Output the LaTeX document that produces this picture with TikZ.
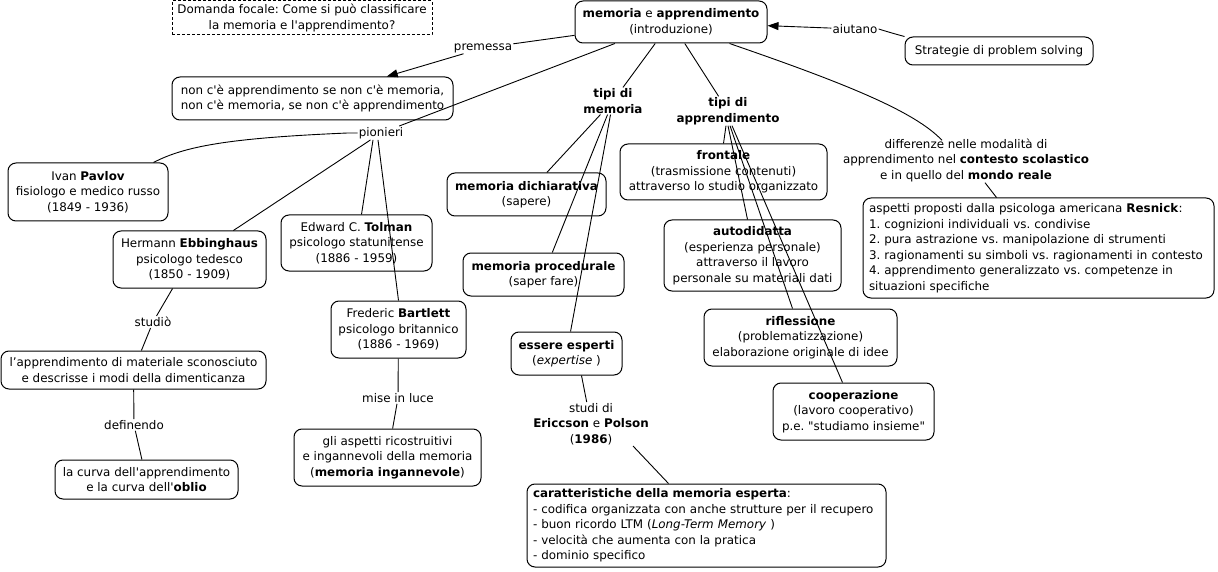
\documentclass[tikz,border=0pt]{standalone}
\usepackage{fontspec}
\setmainfont{DejaVu Sans}[Ligatures=TeXOff]
\usetikzlibrary{arrows.meta,calc}
\frenchspacing
\begin{document}
\begin{tikzpicture}[x=1pt,y=-1pt,
  every node/.style={font=\fontsize{11.9}{15.5}\selectfont\frenchspacing},
  box/.style={draw, rounded corners=8pt, line width=1pt, align=center, inner sep=2pt},
  lbox/.style={draw, rounded corners=8pt, line width=1pt, align=left, inner xsep=6pt, inner ysep=2pt},
  lab/.style={align=center, inner sep=1pt},
  conn/.style={line width=0.9pt},
  arr/.style={conn, -{Triangle[length=11pt,width=8pt]}}]
\useasboundingbox (0,0) rectangle (1218,572);

% boxes
\node[box, rounded corners=0pt, dash pattern=on 3pt off 2pt, minimum width=260pt, minimum height=34pt] (focal) at (302,18) {Domanda focale: Come si può classificare\\la memoria e l'apprendimento?};
\node[box, minimum width=192pt, minimum height=42pt] (main) at (671,22) {\textbf{memoria} e \textbf{apprendimento}\\(introduzione)};
\node[box, minimum width=188pt, minimum height=28pt] (strat) at (999,51) {Strategie di problem solving};
\node[box, minimum width=281pt, minimum height=43pt] (prem) at (312.5,98.5) {non c'è apprendimento se non c'è memoria,\\non c'è memoria, se non c'è apprendimento};
\node[box, minimum width=160pt, minimum height=58pt] (pavlov) at (88,192) {Ivan \textbf{Pavlov}\\fisiologo e medico russo\\(1849 - 1936)};
\node[box, minimum width=153pt, minimum height=57pt] (ebb) at (189.5,259.5) {Hermann \textbf{Ebbinghaus}\\psicologo tedesco\\(1850 - 1909)};
\node[box, minimum width=151pt, minimum height=56pt] (tolman) at (356.5,243) {Edward C. \textbf{Tolman}\\psicologo statunitense\\(1886 - 1959)};
\node[box, minimum width=135pt, minimum height=57pt] (bart) at (398.5,329.5) {Frederic \textbf{Bartlett}\\psicologo britannico\\(1886 - 1969)};
\node[box, minimum width=265pt, minimum height=38pt] (apprmat) at (133.5,370) {l’apprendimento di materiale sconosciuto\\e descrisse i modi della dimenticanza};
\node[box, minimum width=183pt, minimum height=39pt] (curva) at (146.5,479.5) {la curva dell'apprendimento\\e la curva dell'\textbf{oblio}};
\node[box, minimum width=187pt, minimum height=57pt] (aspetti) at (387.5,457.5) {gli aspetti ricostruitivi\\e ingannevoli della memoria\\(\textbf{memoria ingannevole})};
\node[box, minimum width=159pt, minimum height=43pt] (dich) at (526.5,194.5) {\textbf{memoria dichiarativa}\\(sapere)};
\node[box, minimum width=161pt, minimum height=43pt] (proc) at (543.5,274.5) {\textbf{memoria procedurale}\\(saper fare)};
\node[box, minimum width=111pt, minimum height=43pt] (esp) at (566.5,353.5) {\textbf{essere esperti}\\(\textit{expertise} )};
\node[lbox, text width=347pt, minimum height=83pt] (car) at (706.5,525.5) {\textbf{caratteristiche della memoria esperta}:\\- codifica organizzata con anche strutture per il recupero\\- buon ricordo LTM (\textit{Long-Term Memory} )\\- velocità che aumenta con la pratica\\- dominio specifico};
\node[box, minimum width=207pt, minimum height=56pt] (front) at (723.5,172) {\textbf{frontale}\\(trasmissione contenuti)\\attraverso lo studio organizzato};
\node[box, minimum width=177pt, minimum height=71pt] (auto) at (752.5,255.5) {\textbf{autodidatta}\\(esperienza personale)\\attraverso il lavoro\\personale su materiali dati};
\node[box, minimum width=193pt, minimum height=57pt] (rifl) at (800.5,337.5) {\textbf{riflessione}\\(problematizzazione)\\elaborazione originale di idee};
\node[box, minimum width=161pt, minimum height=57pt] (coop) at (853.5,411.5) {\textbf{cooperazione}\\(lavoro cooperativo)\\p.e. "studiamo insieme"};
\node[lbox, text width=339pt, minimum height=100pt] (res) at (1038.5,248) {aspetti proposti dalla psicologa americana \textbf{Resnick}:\\1. cognizioni individuali vs. condivise\\2. pura astrazione vs. manipolazione di strumenti\\3. ragionamenti su simboli vs. ragionamenti in contesto\\4. apprendimento generalizzato vs. competenze in\\situazioni specifiche};

% labels
\node[lab] (premL) at (483,48) {premessa};
\node[lab] (aiut) at (855,29) {aiutano};
\node[lab] (pion) at (381,133) {pionieri};
\node[lab] (stud) at (153,322) {studiò};
\node[lab] (def) at (134,425) {definendo};
\node[lab] (mise) at (398,398) {mise in luce};
\node[lab] (tmem) at (613,101) {\textbf{tipi di}\\\textbf{memoria}};
\node[lab] (tapp) at (728,111) {\textbf{tipi di}\\\textbf{apprendimento}};
\node[lab] (studi) at (591,424) {studi di\\\textbf{Ericcson} e \textbf{Polson}\\(\textbf{1986})};
\node[lab] (diff) at (966,160) {differenze nelle modalità di\\apprendimento nel \textbf{contesto scolastico}\\e in quello del \textbf{mondo reale}};

% connectors
\draw[conn] (main) -- (premL);
\draw[arr] (premL) -- (prem);
\draw[conn] (strat.north west) .. controls (895,34) and (885,31) .. (aiut.east);
\draw[arr] (aiut) -- (main);
\draw[conn] (main) -- (pion);
\draw[conn] (pion.west) -- ++(-10,0) .. controls (230,138) and (185,146) .. ($(pavlov.north east)+(-15,0)$);
\draw[conn] (pion) -- (ebb);
\draw[conn] ($(pion.south)+(-8,0)$) -- ($(tolman.north)+(5,0)$);
\draw[conn] ($(pion.south)+(-3,0)$) -- (bart.north);
\draw[conn] (ebb) -- (stud);
\draw[conn] (stud) -- (apprmat);
\draw[conn] (apprmat) -- (def);
\draw[conn] (def) -- (curva);
\draw[conn] (bart) -- (mise);
\draw[conn] (mise) -- (aspetti);
\draw[conn] (main) -- (tmem);
\draw[conn] (main) -- (tapp);
\draw[conn] ($(main.south east)+(-38,0)$) .. controls (850,85) and (915,112) .. ($(diff.north)+(-24,3)$);
\draw[conn] ($(diff.south)+(19,0)$) -- ($(res.north west)+(134,0)$);
\draw[conn] (tmem) -- (dich);
\draw[conn] (tmem) -- (proc);
\draw[conn] (tmem) -- (esp);
\draw[conn] ($(esp.south)+(15,0)$) -- (studi);
\draw[conn] ($(studi.south)+(42,0)$) -- ($(car.north)+(-38,0)$);
\draw[conn] ($(tapp.south)+(-2,0)$) -- (front.north);
\draw[conn] ($(tapp.south)+(0,0)$) -- ($(auto.north)+(-5,0)$);
\draw[conn] ($(tapp.south)+(2,0)$) -- ($(rifl.north)+(-8,0)$);
\draw[conn] ($(tapp.south)+(4,0)$) -- ($(coop.north)+(-11,0)$);
\end{tikzpicture}
\end{document}
